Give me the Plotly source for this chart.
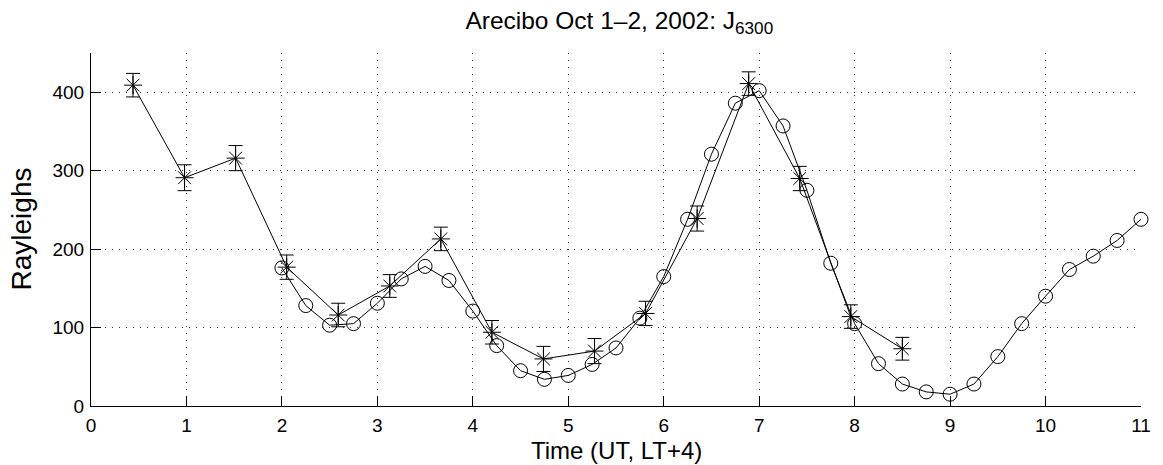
import plotly.graph_objects as go

# Series 1: asterisks with error bars
t_star = [0.44, 0.98, 1.515, 2.05, 2.59, 3.13, 3.665, 4.2, 4.74, 5.275, 5.81, 6.35, 6.89, 7.425, 7.96, 8.5]
r_star = [409, 291, 316, 177, 116, 153, 213, 94, 60, 70, 118, 239, 411, 290, 114, 73]
err_star = [15, 16.5, 16, 15.5, 15, 14.5, 15, 15, 16, 16, 15.5, 16, 15, 15.5, 15, 14.5]

# Series 2: open circles
t_circ = [2.0, 2.25, 2.5, 2.75, 3.0, 3.25, 3.5, 3.75, 4.0, 4.25, 4.5, 4.75, 5.0, 5.25, 5.5, 5.75,
          6.0, 6.25, 6.5, 6.75, 7.0, 7.25, 7.5, 7.75, 8.0, 8.25, 8.5, 8.75, 9.0, 9.25, 9.5, 9.75,
          10.0, 10.25, 10.5, 10.75, 11.0]
r_circ = [176, 128, 103, 105, 131, 162, 178, 160, 121, 77, 45, 34, 39, 53, 74, 112,
          165, 238, 321, 386, 402, 357, 275, 182, 105, 54, 28, 18, 15, 28, 63, 105,
          140, 174, 191, 211, 238]

x_ticks = list(range(0, 12))
y_ticks = [0, 100, 200, 300, 400]

FONT = "Liberation Sans, Arial, Helvetica, sans-serif"

fig = go.Figure()
fig.add_trace(go.Scatter(
    x=t_circ, y=r_circ, mode="lines+markers",
    line=dict(color="black", width=1),
    marker=dict(symbol="circle-open", size=14, color="black", line=dict(width=1)),
    cliponaxis=False, showlegend=False))
fig.add_trace(go.Scatter(
    x=t_star, y=r_star, mode="lines+markers",
    line=dict(color="black", width=1),
    marker=dict(symbol="asterisk-open", size=15, color="black", line=dict(width=1, color="black")),
    error_y=dict(type="data", array=err_star, visible=True, color="black", thickness=1, width=7),
    cliponaxis=False, showlegend=False))

grid = dict(showgrid=True, gridcolor="#333333", gridwidth=1, griddash="1px,6px")

fig.update_xaxes(range=[0, 11], tickvals=x_ticks, ticktext=[str(v) for v in x_ticks],
                 ticks="inside", ticklen=10, tickcolor="black", tickwidth=1,
                 showline=True, linecolor="black", linewidth=1, zeroline=False,
                 tickfont=dict(family=FONT, size=19, color="black"),
                 ticklabelstandoff=2, **grid)
fig.update_yaxes(range=[0, 450], tickvals=y_ticks, ticktext=[str(v) for v in y_ticks],
                 ticks="inside", ticklen=10, tickcolor="black", tickwidth=1,
                 showline=True, linecolor="black", linewidth=1, zeroline=False,
                 tickfont=dict(family=FONT, size=19, color="black"),
                 ticklabelstandoff=2, **grid)

fig.add_annotation(text="Time (UT, LT+4)", xref="paper", yref="paper",
                   x=0.5, y=(465 - 59 - 451) / (465 - 53 - 59), yanchor="middle", xanchor="center",
                   showarrow=False, font=dict(family=FONT, size=24, color="black"))
fig.add_annotation(text="Rayleighs", xref="paper", yref="paper",
                   x=(21 - 91) / 1057, y=(465 - 59 - 229) / (465 - 53 - 59), textangle=-90,
                   xanchor="center", yanchor="middle",
                   showarrow=False, font=dict(family=FONT, size=28, color="black"))

fig.update_layout(
    width=1163, height=465,
    margin=dict(l=91, r=15, t=53, b=59),
    paper_bgcolor="white", plot_bgcolor="white",
    title=dict(text="Arecibo Oct 1\u20132, 2002: J<sub>6300</sub>", x=0.5325, xanchor="center",
               y=1 - 20 / 465, yanchor="middle",
               font=dict(family=FONT, size=24.5, color="black")),
    font=dict(family=FONT, color="black"),
)

fig.write_html("out.html")
